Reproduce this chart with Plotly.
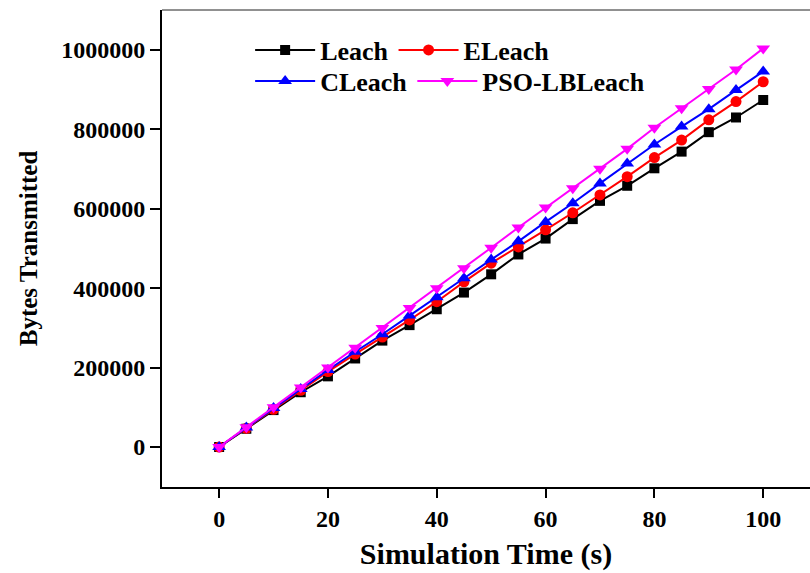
import plotly.graph_objects as go

time_s = [0, 5, 10, 15, 20, 25, 30, 35, 40, 45, 50, 55, 60, 65, 70, 75, 80, 85, 90, 95, 100]
leach = [0, 46000, 93000, 138000, 178000, 223000, 268000, 307000, 347000, 389000, 435000,
         485000, 525000, 574000, 620000, 658000, 702000, 744000, 793000, 830000, 874000]
eleach = [0, 47000, 95000, 143000, 190000, 234000, 277000, 320000, 366000, 416000, 463000,
          504000, 547000, 590000, 635000, 681000, 729000, 773000, 824000, 870000, 920000]
cleach = [0, 49000, 98000, 146000, 194000, 240000, 284000, 331000, 377000, 425000, 472000,
          518000, 567000, 614000, 664000, 714000, 762000, 807000, 851000, 899000, 946000]
pso_lbleach = [0, 50000, 100000, 150000, 200000, 250000, 300000, 350000, 400000, 450000, 502000,
               553000, 603000, 652000, 701000, 751000, 804000, 853000, 902000, 951000, 1004000]

y_ticks = [0, 200000, 400000, 600000, 800000, 1000000]
x_ticks = [0, 20, 40, 60, 80, 100]

FONT = "Liberation Serif"

series = [
    ("Leach", leach, "#000000", "square", 10, "legend"),
    ("ELeach", eleach, "#ff0000", "circle", 11, "legend"),
    ("CLeach", cleach, "#0000ff", "triangle-up", 12, "legend2"),
    ("PSO-LBLeach", pso_lbleach, "#ff00ff", "triangle-down", 12, "legend2"),
]

fig = go.Figure()
for name, vals, color, sym, size, leg in series:
    fig.add_trace(go.Scatter(
        x=time_s, y=vals, name="<b>" + name + "</b>", mode="lines+markers",
        line=dict(color=color, width=2),
        marker=dict(symbol=sym, size=size, color=color),
        legend=leg,
    ))

legend_common = dict(
    orientation="h", xanchor="left", yanchor="middle",
    font=dict(family=FONT, size=26, color="black"),
    bgcolor="rgba(0,0,0,0)", itemwidth=60, tracegroupgap=0,
)

fig.update_layout(
    width=810, height=573,
    margin=dict(l=162, r=0, t=10, b=86),
    plot_bgcolor="white", paper_bgcolor="white",
    font=dict(family=FONT, color="black"),
    showlegend=True,
    legend=dict(x=0.136, y=0.916, **legend_common),
    legend2=dict(x=0.136, y=0.851, **legend_common),
    xaxis=dict(
        range=[-10.5, 108.6], tickvals=x_ticks, ticktext=["<b>%d</b>" % v for v in x_ticks],
        showline=True, linecolor="black", linewidth=2,
        ticks="outside", ticklen=9, tickwidth=2, tickcolor="black",
        showgrid=False, zeroline=False,
        tickfont=dict(family=FONT, size=24, color="black"),
        title=dict(text="<b>Simulation Time (s)</b>", font=dict(family=FONT, size=30, color="black"), standoff=12),
    ),
    yaxis=dict(
        range=[-100700, 1100700], tickvals=y_ticks, ticktext=["<b>%d</b>" % v for v in y_ticks],
        showline=True, linecolor="black", linewidth=2,
        ticks="outside", ticklen=10, tickwidth=2, tickcolor="black",
        showgrid=False, zeroline=False,
        tickfont=dict(family=FONT, size=24, color="black"),
        title=dict(text="<b>Bytes Transmitted</b>", font=dict(family=FONT, size=25, color="black"), standoff=16),
    ),
)

fig.add_shape(type="line", xref="paper", yref="paper", x0=0, x1=1, y0=1, y1=1,
              line=dict(color="#222222", width=1))

fig.write_html("out.html")
